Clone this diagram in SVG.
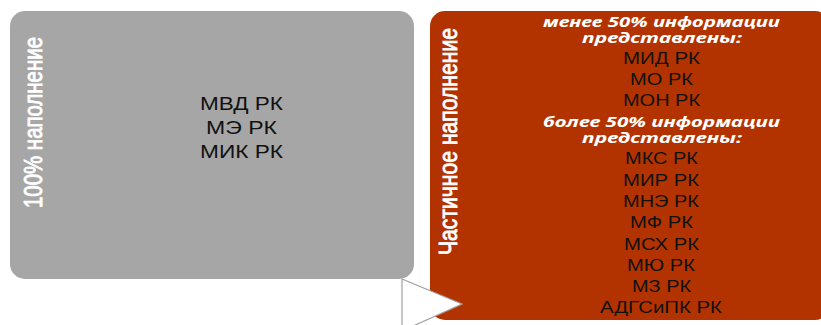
<svg xmlns="http://www.w3.org/2000/svg" width="821" height="325" viewBox="0 0 821 325">
<style>
.lbl{font-family:"Liberation Sans",Arial,sans-serif;fill:#111;text-anchor:middle}
.l18{font-size:18px}
.l16{font-size:16px}
.hd{font-family:"Noto Sans","Open Sans","DejaVu Sans",sans-serif;font-style:italic;font-weight:bold;font-size:15px;fill:#fff;text-anchor:middle}
.vt{font-family:"Liberation Sans",Arial,sans-serif;fill:#fff;stroke:#fff;stroke-width:0.7}
</style>
<rect width="821" height="325" fill="#fff"/>
<g id="node-full">
<rect x="10" y="11" width="404" height="268" rx="15" ry="15" fill="#A6A6A6"/>
<text class="vt" font-size="20.5" textLength="171" lengthAdjust="spacingAndGlyphs" transform="translate(42,208) rotate(-90) scale(1,1.3)">100% наполнение</text>
<text class="lbl l18" x="241.5" y="110" textLength="83" lengthAdjust="spacingAndGlyphs">МВД РК</text>
<text class="lbl l18" x="241.5" y="134" textLength="71" lengthAdjust="spacingAndGlyphs">МЭ РК</text>
<text class="lbl l18" x="241.5" y="158" textLength="83" lengthAdjust="spacingAndGlyphs">МИК РК</text>
</g>
<g id="node-partial">
<rect x="430" y="11" width="400" height="309" rx="15" ry="15" fill="#B33300"/>
<text class="vt" font-size="21" textLength="227" lengthAdjust="spacingAndGlyphs" transform="translate(457,255) rotate(-90) scale(1,1.2)">Частичное наполнение</text>
<text class="hd" x="661.5" y="27" textLength="237" lengthAdjust="spacingAndGlyphs">менее 50% информации</text>
<text class="hd" x="662" y="43" textLength="160" lengthAdjust="spacingAndGlyphs">представлены:</text>
<text class="lbl l16" x="661.5" y="64" textLength="77" lengthAdjust="spacingAndGlyphs">МИД РК</text>
<text class="lbl l16" x="661.5" y="85" textLength="63" lengthAdjust="spacingAndGlyphs">МО РК</text>
<text class="lbl l16" x="661.5" y="106" textLength="77" lengthAdjust="spacingAndGlyphs">МОН РК</text>
<text class="hd" x="661.5" y="127" textLength="237" lengthAdjust="spacingAndGlyphs">более 50% информации</text>
<text class="hd" x="662" y="143" textLength="160" lengthAdjust="spacingAndGlyphs">представлены:</text>
<text class="lbl l16" x="661.5" y="164" textLength="73" lengthAdjust="spacingAndGlyphs">МКС РК</text>
<text class="lbl l16" x="661" y="186" textLength="76" lengthAdjust="spacingAndGlyphs">МИР РК</text>
<text class="lbl l16" x="661" y="207" textLength="76" lengthAdjust="spacingAndGlyphs">МНЭ РК</text>
<text class="lbl l16" x="661.5" y="228" textLength="63" lengthAdjust="spacingAndGlyphs">МФ РК</text>
<text class="lbl l16" x="661.5" y="250" textLength="75" lengthAdjust="spacingAndGlyphs">МСХ РК</text>
<text class="lbl l16" x="661" y="271" textLength="68" lengthAdjust="spacingAndGlyphs">МЮ РК</text>
<text class="lbl l16" x="661.5" y="292" textLength="59" lengthAdjust="spacingAndGlyphs">МЗ РК</text>
<text class="lbl l16" x="661" y="313" textLength="122" lengthAdjust="spacingAndGlyphs">АДГСиПК РК</text>
</g>
<g id="connectors">
<polygon points="402,279 462,304 402,331" fill="#fff" stroke="#A0A0A0" stroke-width="1.2"/>
</g>
</svg>
